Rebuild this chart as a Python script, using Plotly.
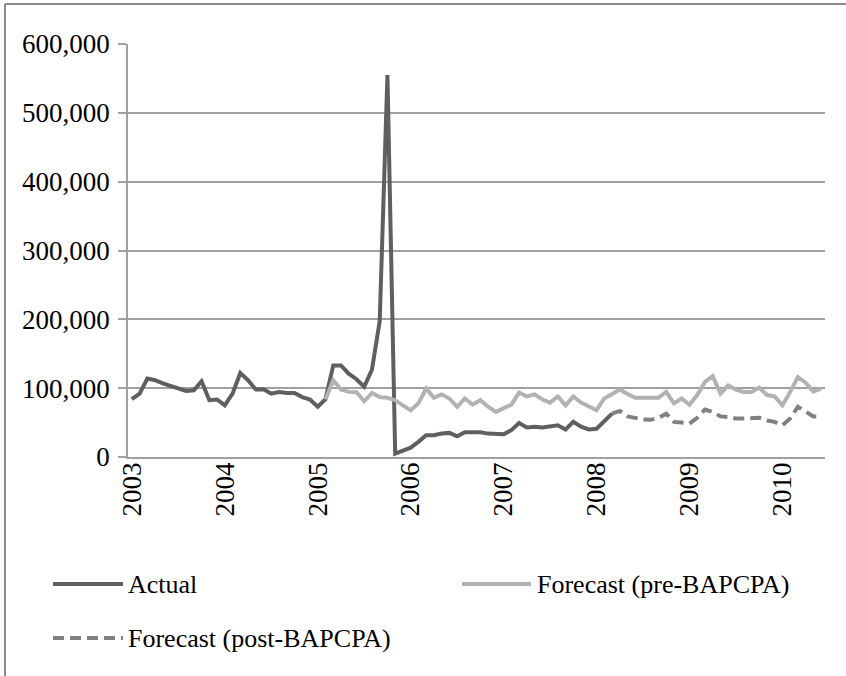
import plotly.graph_objects as go

# ---------------- data ----------------
years = list(range(2003, 2011))
months = [f"{y}-{m:02d}" for y in years for m in range(1, 13)][:90]  # Jan 2003 .. Jun 2010
year_ticks = [f"{y}-01" for y in years]
year_labels = [str(y) for y in years]

actual = [84000, 92000, 114000, 111600, 107000, 103000, 100000, 96000, 97000, 110000,
          82500, 83500, 75000, 92000, 122000, 111600, 98000, 98500, 92000, 94500,
          93000, 93000, 87000, 83500, 73000, 84000, 133000, 133000, 121000, 113000,
          102000, 127000, 197000, 555000, 5000, 8700, 13600, 22000, 31500, 31500,
          34000, 35000, 30000, 36000, 36000, 36000, 34000, 33000, 33000, 39000,
          49500, 43000, 44000, 43000, 44000, 46000, 40000, 51000, 44000, 40000,
          41000, 52000, 63000]
actual_months = months[:63]

pre_forecast = [84000, 111600, 98000, 94600, 94000, 81000, 93000, 87000, 86000, 82500,
                75000, 68000, 78000, 99500, 86000, 91000, 85000, 73000, 85000, 76000,
                82500, 73000, 65500, 70000, 76000, 93600, 88000, 91000, 83500, 79000,
                88000, 75000, 88000, 79000, 73000, 68000, 85000, 92000, 98000, 91600,
                86000, 86000, 86000, 86000, 94600, 78000, 85000, 76000, 90000, 109000,
                117500, 92000, 104000, 98000, 94600, 94600, 101000, 90000, 88000, 75000,
                94600, 116000, 108000, 95000, 99500]
pre_months = months[25:90]

post_forecast = [63000, 67000, 59000, 56000, 54500, 54000, 57000, 63000, 51000, 50000,
                 48500, 57000, 69000, 65500, 59000, 58000, 56000, 56000, 56000, 57000,
                 53000, 51000, 46000, 56000, 73000, 65500, 59000, 59000]
post_months = months[62:90]

series_names = ["Actual", "Forecast (pre-BAPCPA)", "Forecast (post-BAPCPA)"]

# ---------------- styles ----------------
C_ACTUAL = "#5f5f5f"
C_PRE = "#b2b2b2"
C_POST = "#808080"
GRID = "#a0a0a0"
FONT = "Liberation Serif, Times New Roman, serif"
W, H = 846, 676
ML, MR, MT, MB = 128, 21, 44, 219


def px(x):
    return (x - ML) / (W - ML - MR)


def py(y):
    return (H - MB - y) / (H - MT - MB)


fig = go.Figure()
fig.add_trace(go.Scatter(x=actual_months, y=actual, mode="lines", name=series_names[0],
                         line=dict(color=C_ACTUAL, width=4)))
fig.add_trace(go.Scatter(x=pre_months, y=pre_forecast, mode="lines", name=series_names[1],
                         line=dict(color=C_PRE, width=4)))
fig.add_trace(go.Scatter(x=post_months, y=post_forecast, mode="lines", name=series_names[2],
                         line=dict(color=C_POST, width=4, dash="11px,6px")))

BORDER = dict(color="#8a8a8a", width=2)
shapes = [
    # outer chart border (left and top edges visible in the crop)
    dict(type="line", xref="paper", yref="paper", x0=px(5), x1=px(5), y0=py(4), y1=py(676),
         line=BORDER),
    dict(type="line", xref="paper", yref="paper", x0=px(5), x1=px(846), y0=py(4), y1=py(4),
         line=BORDER),
    # legend samples
    dict(type="line", xref="paper", yref="paper", x0=px(53), x1=px(123), y0=py(584), y1=py(584),
         line=dict(color=C_ACTUAL, width=4)),
    dict(type="line", xref="paper", yref="paper", x0=px(462), x1=px(531), y0=py(584), y1=py(584),
         line=dict(color=C_PRE, width=4)),
    dict(type="line", xref="paper", yref="paper", x0=px(53), x1=px(123), y0=py(638), y1=py(638),
         line=dict(color=C_POST, width=4, dash="11px,6px")),
]
annotations = [
    dict(text=series_names[0], xref="paper", yref="paper", x=px(126), y=py(584),
         xanchor="left", yanchor="middle", showarrow=False),
    dict(text=series_names[1], xref="paper", yref="paper", x=px(535), y=py(584),
         xanchor="left", yanchor="middle", showarrow=False),
    dict(text=series_names[2], xref="paper", yref="paper", x=px(126), y=py(638),
         xanchor="left", yanchor="middle", showarrow=False),
]

fig.update_layout(
    width=W, height=H,
    margin=dict(l=ML, r=MR, t=MT, b=MB),
    paper_bgcolor="white", plot_bgcolor="white",
    font=dict(family=FONT, size=26, color="black"),
    showlegend=False,
    shapes=shapes,
    annotations=annotations,
)
fig.update_xaxes(type="category", categoryorder="array", categoryarray=months,
                 range=[-0.5, 89.5], tickmode="array", tickvals=year_ticks, ticktext=year_labels,
                 tickangle=-90, ticks="", showgrid=False, showline=True, linecolor=GRID,
                 linewidth=1.5, zeroline=False, ticklabelstandoff=-7,
                 tickfont=dict(size=27))
fig.update_yaxes(range=[0, 600000], tickvals=[0, 100000, 200000, 300000, 400000, 500000, 600000],
                 tickformat=",", showgrid=True, gridcolor=GRID, gridwidth=1.5,
                 showline=True, linecolor=GRID, linewidth=1.5, zeroline=False,
                 ticks="outside", ticklen=8, tickcolor=GRID, tickwidth=1.5,
                 ticklabelstandoff=3, tickfont=dict(size=27))

fig.write_html("out.html", config={"displayModeBar": False},
               post_script="document.body.style.margin='0';document.body.style.overflow='hidden';")
